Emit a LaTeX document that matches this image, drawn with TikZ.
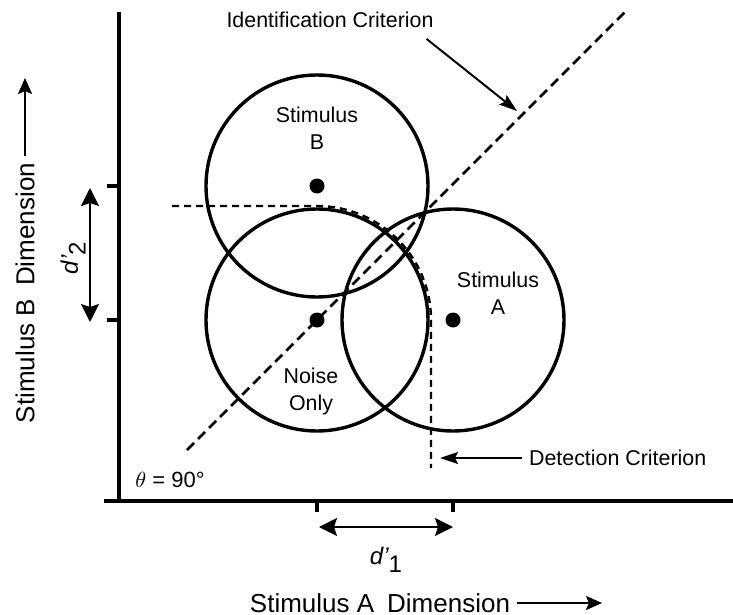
\documentclass[tikz,border=0pt]{standalone}
\usepackage{fontspec}
\setmainfont{Liberation Sans}
\usetikzlibrary{arrows.meta, positioning, calc}

\newcommand{\dsub}[1]{{\itshape d’}\raisebox{-0.6ex}{#1}}

\tikzset{
    axis/.style={line width=1.7pt},
    blob/.style={circle, draw, line width=1.7pt, minimum size=111pt, inner sep=0pt},
    dot/.style={circle, fill, inner sep=0pt, minimum size=7.5pt},
    ptr/.style={line width=1pt, -{Stealth[length=9pt, width=6pt, inset=1.5pt]}},
    both/.style={line width=1pt, {Stealth[length=9pt, width=9pt, inset=1.5pt]}-{Stealth[length=9pt, width=9pt, inset=1.5pt]}},
    axptr/.style={line width=1pt, -{Stealth[length=8pt, width=7pt, inset=1.5pt]}},
    idcrit/.style={line width=1.4pt, dash pattern=on 5pt off 2.8pt},
    detcrit/.style={line width=1.2pt, dash pattern=on 3.5pt off 2.5pt},
    big/.style={font=\fontsize{13}{15}\selectfont}
}

\begin{document}
\begin{tikzpicture}[x=0.5pt, y=-0.5pt, font=\fontsize{10.7}{13.5}\selectfont]
    \useasboundingbox (0,0) rectangle (733,615);
    % axes and ticks
    \draw[axis] (119,12) -- (119,501);
    \draw[axis] (104,501) -- (733,501);
    \foreach \y in {186,320} \draw[axis] (107,\y) -- (119,\y);
    \foreach \x in {317,453} \draw[axis] (\x,501) -- (\x,512);

    % the three distributions
    \node[blob] (stimB) at (317,186) {};
    \node[blob] (noise) at (317,320) {};
    \node[blob] (stimA) at (453,320) {};
    \foreach \c in {stimB, noise, stimA} \node[dot] at (\c.center) {};
    \node[align=center] (labB) at (317,128) {Stimulus\\B};
    \node[align=center] (labA) at (498,293) {Stimulus\\A};
    \node[align=center] (labN) at (311,391) {Noise\\Only};

    % identification criterion
    \draw[idcrit] ($(noise.center)+(-130,130)$) -- ($(noise.center)+(308,-308)$);
    \node (idlab) at (330,20) {Identification Criterion};
    \coordinate (idtip) at (517,111);
    \draw[ptr] ([xshift=-7pt, yshift=-2pt]idlab.south east) -- (idtip);

    % detection criterion
    \draw[detcrit] (172,206) -- (317,206) arc[start angle=-90, end angle=0, radius=114] -- (431,468);
    \node[anchor=west] (detlab) at (522,458) {Detection Criterion};
    \coordinate (dettip) at (440,458);
    \draw[ptr] (detlab.west) -- (dettip);

    \node[font=\fontsize{11}{13}\selectfont] (theta) at (170,480) {$\theta$ = 90°};

    % d' separations
    \coordinate (dBtop) at (90,188);
    \coordinate (dBbot) at (90,322);
    \draw[both] (dBtop) -- (dBbot);
    \node[rotate=90, font=\fontsize{12}{14}\selectfont] (dB) at (73,258) {\dsub{2}};
    \coordinate (dAl) at (319,527);
    \coordinate (dAr) at (453,527);
    \draw[both] (dAl) -- (dAr);
    \node[font=\fontsize{12}{14}\selectfont] (dA) at (386,560) {\dsub{1}};

    % axis labels
    \node[big] (xlab) at (380,603) {Stimulus A\enspace Dimension};
    \coordinate (xend) at (602,603);
    \draw[axptr] (xlab.east) -- (xend);
    \node[big, rotate=90] (ylab) at (25,293) {Stimulus B\enspace Dimension};
    \coordinate (yend) at (25,78);
    \draw[axptr] (ylab.east) -- (yend);
\end{tikzpicture}
\end{document}
